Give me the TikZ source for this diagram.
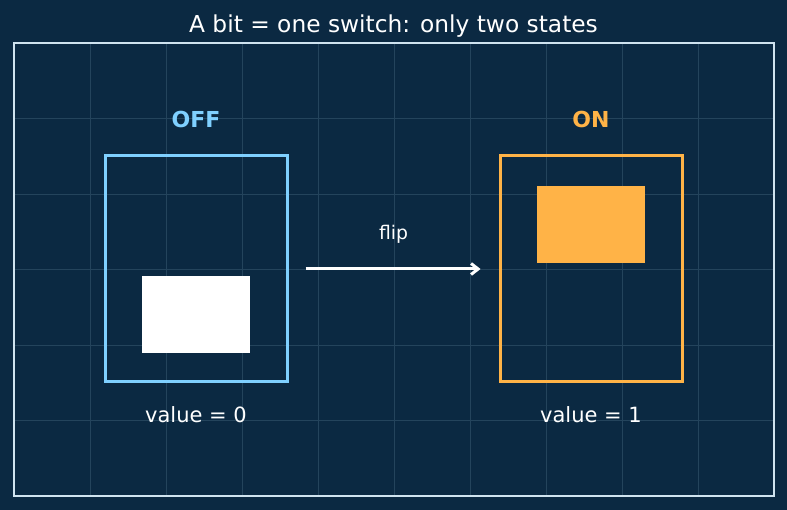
\documentclass[tikz,border=0pt]{standalone}
\usepackage{fontspec}
\setmainfont{DejaVu Sans}
\usepackage{tikz}
\usetikzlibrary{arrows.meta,positioning}

\definecolor{bgnavy}{HTML}{0B2942}
\definecolor{gridln}{HTML}{24445C}
\definecolor{framecol}{HTML}{CFE3EF}
\definecolor{offblue}{HTML}{7FD0FF}
\definecolor{onorange}{HTML}{FFB347}

\begin{document}
\begin{tikzpicture}[
    x=1pt, y=-1pt,
    switchbox/.style={draw, line width=3pt, minimum width=182pt, minimum height=226pt, inner sep=0pt},
    knob/.style={minimum width=108pt, minimum height=77pt, inner sep=0pt},
    state/.style={font=\bfseries\fontsize{22}{26}\selectfont},
    valtext/.style={text=white, font=\fontsize{21}{25}\selectfont},
    arr/.style={-{Straight Barb[length=7pt,width=11pt]}, line width=3pt, white}
]
\useasboundingbox[fill=bgnavy] (0,0) rectangle (787,510);

% grid and frame
\foreach \gx in {90,166,242,318,394,470,546,622,698}
    \draw[gridln, line width=0.8pt] (\gx,43) -- (\gx,496);
\foreach \gy in {118.5,194,269.5,345,420.5}
    \draw[gridln, line width=0.8pt] (14,\gy) -- (774,\gy);
\draw[framecol, line width=1.6pt] (14,43) rectangle (774,496);

\node[text=white, font=\fontsize{23.3}{27}\selectfont] (title) at (393.5,26.5) {A bit = one switch: only two states};

\node[switchbox, draw=offblue] (offbox) at (196,269) {};
\node[switchbox, draw=onorange] (onbox) at (591,269) {};
\node[knob, fill=white] (offknob) at (196,315) {};
\node[knob, fill=onorange] (onknob) at (591,224.5) {};

\node[state, text=offblue] (offlabel) at (196,119) {OFF};
\node[state, text=onorange] (onlabel) at (591,119) {ON};
\node[valtext] (offval) at (196,414.5) {value = 0};
\node[valtext] (onval) at (591,414.5) {value = 1};

\draw[arr, shorten <=17pt, shorten >=18pt] (offbox) -- node[above=21pt, text=white, font=\fontsize{18.8}{22}\selectfont] {flip} (onbox);
\end{tikzpicture}
\end{document}
